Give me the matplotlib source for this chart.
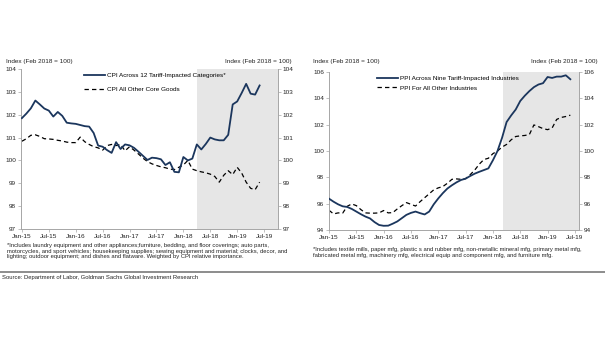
import matplotlib
matplotlib.use("Agg")
import matplotlib.pyplot as plt
from matplotlib.lines import Line2D

plt.rcParams['font.family'] = ['Liberation Sans', 'DejaVu Sans']

# ---------------- data (monthly, Jan-2015 .. Jun-2019) ----------------
months = list(range(54))
xtick_pos = [0, 6, 12, 18, 24, 30, 36, 42, 48, 54]
xtick_labels = ["Jan-15", "Jul-15", "Jan-16", "Jul-16", "Jan-17", "Jul-17",
                "Jan-18", "Jul-18", "Jan-19", "Jul-19"]

cpi_tariff = [101.85, 102.05, 102.28, 102.62, 102.45, 102.27, 102.18, 101.92, 102.12, 101.95,
              101.65, 101.62, 101.60, 101.55, 101.50, 101.48, 101.20, 100.65, 100.60, 100.45,
              100.33, 100.80, 100.50, 100.70, 100.66, 100.55, 100.38, 100.20, 100.02, 100.12,
              100.10, 100.05, 99.80, 99.92, 99.50, 99.48, 100.15, 100.00, 100.08, 100.70,
              100.48, 100.72, 101.00, 100.92, 100.88, 100.88, 101.12, 102.45, 102.58, 102.95,
              103.35, 102.92, 102.88, 103.28]
cpi_other = [100.84, 100.95, 101.10, 101.12, 101.05, 100.95, 100.94, 100.92, 100.88, 100.85,
             100.80, 100.78, 100.78, 101.02, 100.82, 100.70, 100.60, 100.55, 100.45, 100.65,
             100.70, 100.65, 100.70, 100.42, 100.60, 100.45, 100.28, 100.10, 99.95, 99.85,
             99.78, 99.72, 99.68, 99.62, 99.60, 99.70, 99.80, 100.00, 99.62, 99.55,
             99.50, 99.46, 99.40, 99.30, 99.05, 99.35, 99.55, 99.38, 99.70, 99.45,
             99.05, 98.78, 98.72, 99.05]

ppi_tariff = [96.38, 96.15, 95.95, 95.80, 95.75, 95.60, 95.40, 95.20, 95.02, 94.88,
              94.60, 94.38, 94.32, 94.33, 94.48, 94.65, 94.90, 95.15, 95.30, 95.40,
              95.28, 95.18, 95.40, 95.95, 96.40, 96.80, 97.15, 97.40, 97.62, 97.80,
              97.90, 98.10, 98.28, 98.42, 98.55, 98.68, 99.30, 100.00, 101.00, 102.20,
              102.70, 103.15, 103.80, 104.20, 104.55, 104.85, 105.05, 105.15, 105.62, 105.55,
              105.65, 105.65, 105.75, 105.45]
ppi_other = [95.50, 95.22, 95.30, 95.28, 95.80, 95.98, 95.85, 95.55, 95.30, 95.28,
             95.28, 95.30, 95.48, 95.30, 95.32, 95.60, 95.85, 96.08, 95.95, 95.82,
             96.15, 96.45, 96.75, 97.05, 97.20, 97.30, 97.55, 97.85, 97.88, 97.85,
             97.90, 98.20, 98.55, 99.00, 99.35, 99.45, 99.80, 100.00, 100.30, 100.50,
             100.85, 101.10, 101.15, 101.18, 101.25, 101.98, 101.85, 101.70, 101.62, 101.75,
             102.40, 102.55, 102.62, 102.72]

cpi_yticks = [97, 98, 99, 100, 101, 102, 103, 104]
ppi_yticks = [94, 96, 98, 100, 102, 104, 106]

cpi_labels = ["CPI Across 12 Tariff-Impacted Categories*", "CPI All Other Core Goods"]
ppi_labels = ["PPI Across Nine Tariff-Impacted Industries", "PPI For All Other Industries"]
axis_title = "Index (Feb 2018 = 100)"

cpi_note = ("*Includes laundry equipment and other appliances;furniture, bedding, and floor coverings; auto parts,\n"
            "motorcycles, and sport vehicles; housekeeping supplies; sewing equipment and material; clocks, decor, and\n"
            "lighting; outdoor equipment; and dishes and flatware. Weighted by CPI relative importance.")
ppi_note = ("*Includes textile mills, paper mfg, plastic s and rubber mfg, non-metallic mineral mfg, primary metal mfg,\n"
            "fabricated metal mfg, machinery mfg, electrical equip and component mfg, and furniture mfg.")
source = "Source: Department of Labor, Goldman Sachs Global Investment Research"

# ---------------- styling ----------------
W, H = 605, 341
fig = plt.figure(figsize=(W / 100, H / 100), dpi=100)
NAVY = "#1b365d"
SPINE = "#a6a6a6"
SHADE = "#e6e6e6"
FS = 4.6


def px_axes(x0, y0, x1, y1):
    return fig.add_axes([x0 / W, 1 - y1 / H, (x1 - x0) / W, (y1 - y0) / H])


def style(ax, yticks, xlim, shade_start):
    ax.axvspan(shade_start, xlim[1], color=SHADE, lw=0, zorder=0)
    ax.set_xlim(*xlim)
    ax.set_ylim(yticks[0], yticks[-1])
    ax.set_yticks(yticks)
    ax.set_yticklabels([str(v) for v in yticks])
    ax.set_xticks(xtick_pos)
    ax.set_xticklabels(xtick_labels)
    for s in ["left", "right", "bottom"]:
        ax.spines[s].set_color(SPINE)
        ax.spines[s].set_linewidth(0.7)
    ax.spines["top"].set_visible(False)
    ax.tick_params(axis="both", labelsize=FS, length=2, width=0.5, color=SPINE,
                   pad=1.5, labelcolor="#222222")
    ax.tick_params(axis="y", right=True, labelright=True)


# left panel
ax1 = px_axes(21, 69, 278, 229)
style(ax1, cpi_yticks, (-0.2, 57.1), 39.1)
ax1.plot(months, cpi_other, color="black", lw=0.9, ls=(0, (3.5, 2.5)), zorder=2)
ax1.plot(months, cpi_tariff, color=NAVY, lw=1.3, zorder=3)

# right panel
ax2 = px_axes(329, 72, 579, 230)
style(ax2, ppi_yticks, (0, 54.9), 38.2)
ax2.plot(months, ppi_other, color="black", lw=0.9, ls=(0, (3.5, 2.5)), zorder=2)
ax2.plot(months, ppi_tariff, color=NAVY, lw=1.3, zorder=3)

# legends
h_solid = Line2D([], [], color=NAVY, lw=1.3)
h_dash = Line2D([], [], color="black", lw=0.9, ls=(0, (3.5, 2.5)))
ax1.legend([h_solid, h_dash], cpi_labels, loc="upper left",
           bbox_to_anchor=((80 - 21) / 257, 1.0), frameon=False, fontsize=FS,
           handlelength=3.3, handletextpad=0.3, labelspacing=1.25, borderaxespad=0.2)
ax2.legend([h_solid, h_dash], ppi_labels, loc="upper left",
           bbox_to_anchor=((373 - 329) / 250, 1.0), frameon=False, fontsize=FS,
           handlelength=3.3, handletextpad=0.3, labelspacing=0.6, borderaxespad=0.2)

# axis header labels
for x, ha in [(6, "left"), (292, "right"), (313, "left"), (598, "right")]:
    fig.text(x / W, 1 - 61 / H, axis_title, ha=ha, va="center", fontsize=FS, color="#222222")

# footnotes
fig.text(7 / W, 1 - 243 / H, cpi_note, ha="left", va="top", fontsize=4.2,
         color="#222222", linespacing=1.15)
fig.text(313 / W, 1 - 247 / H, ppi_note, ha="left", va="top", fontsize=4.2,
         color="#222222", linespacing=1.15)

# separator line and source
fig.add_artist(Line2D([0.0, 1.0], [1 - 271.5 / H, 1 - 271.5 / H], transform=fig.transFigure,
                      color="#8c8c8c", lw=1.4))
fig.text(2 / W, 1 - 277 / H, source, ha="left", va="center", fontsize=4.2,
         color="#222222")

fig.savefig("out.png", dpi=100)
